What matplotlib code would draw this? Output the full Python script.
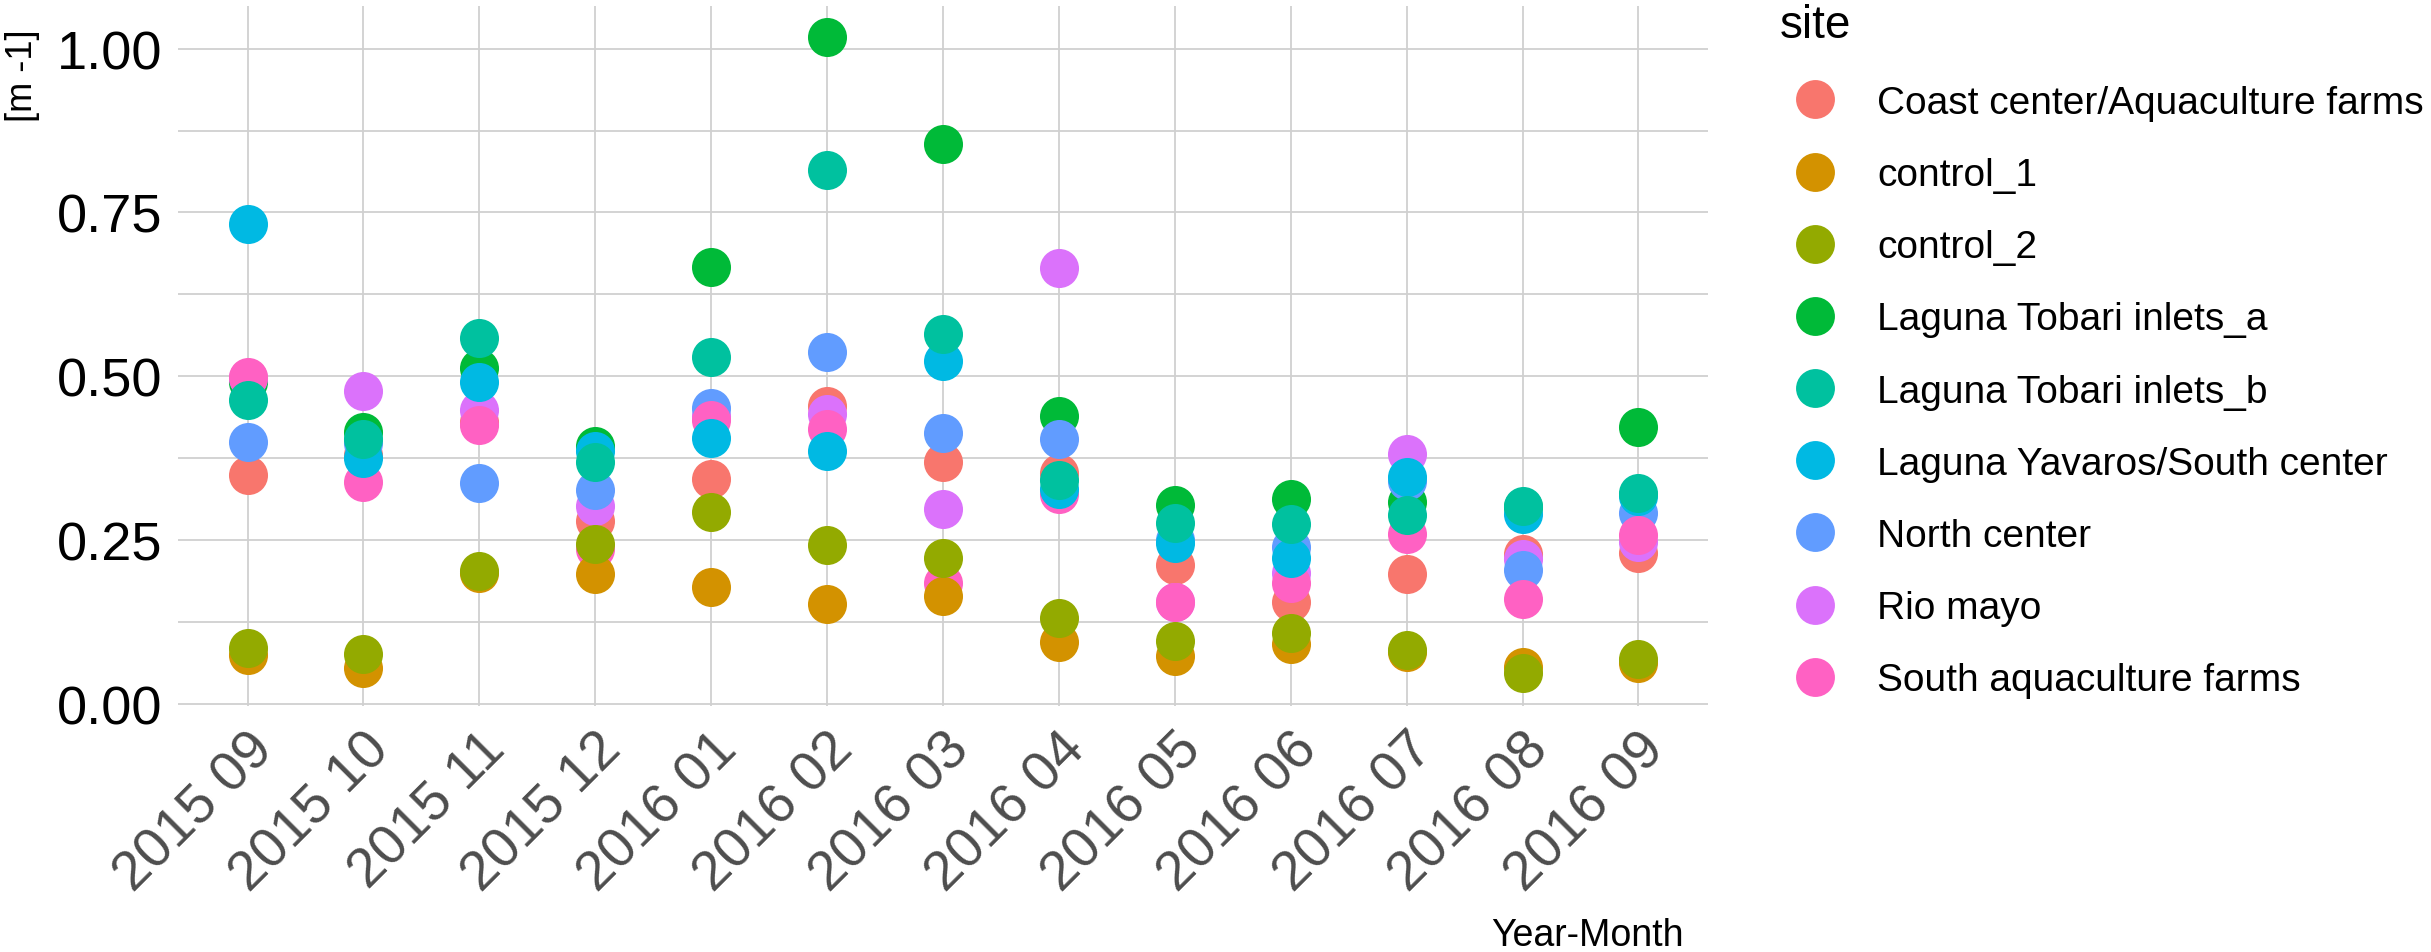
import matplotlib
matplotlib.use('Agg')
import numpy as np
import matplotlib.pyplot as plt
from matplotlib.lines import Line2D

plt.rcParams['font.family'] = ['Liberation Sans', 'DejaVu Sans']

months = ["2015 09", "2015 10", "2015 11", "2015 12", "2016 01", "2016 02", "2016 03",
          "2016 04", "2016 05", "2016 06", "2016 07", "2016 08", "2016 09"]

sites = ["Coast center/Aquaculture farms", "control_1", "control_2",
         "Laguna Tobari inlets_a", "Laguna Tobari inlets_b",
         "Laguna Yavaros/South center", "North center", "Rio mayo",
         "South aquaculture farms"]
colors = ["#F8766D", "#D39200", "#93AA00", "#00BA38", "#00C19F",
          "#00B9E3", "#619CFF", "#DB72FB", "#FF61C3"]

# valores (una lista por sitio, un valor por mes)
coast     = [0.349, 0.380, 0.430, 0.280, 0.344, 0.455, 0.369, 0.353, 0.212, 0.156, 0.198, 0.229, 0.230]
control_1 = [0.075, 0.055, 0.200, 0.198, 0.178, 0.152, 0.165, 0.094, 0.074, 0.092, 0.080, 0.056, 0.063]
control_2 = [0.086, 0.076, 0.203, 0.244, 0.293, 0.242, 0.223, 0.132, 0.096, 0.109, 0.082, 0.048, 0.069]
tobari_a  = [0.492, 0.415, 0.512, 0.393, 0.667, 1.017, 0.854, 0.440, 0.303, 0.313, 0.309, 0.300, 0.422]
tobari_b  = [0.464, 0.405, 0.559, 0.369, 0.530, 0.815, 0.565, 0.342, 0.276, 0.275, 0.289, 0.302, 0.322]
yavaros   = [0.732, 0.376, 0.492, 0.386, 0.406, 0.386, 0.524, 0.328, 0.245, 0.223, 0.346, 0.290, 0.318]
north     = [0.400, 0.398, 0.337, 0.327, 0.451, 0.537, 0.414, 0.404, 0.250, 0.240, 0.340, 0.204, 0.291]
rio_mayo  = [0.498, 0.478, 0.448, 0.302, 0.440, 0.442, 0.297, 0.666, 0.155, 0.200, 0.382, 0.222, 0.247]
south_aq  = [0.499, 0.338, 0.426, 0.236, 0.433, 0.419, 0.184, 0.320, 0.155, 0.184, 0.260, 0.161, 0.258]

series = [coast, control_1, control_2, tobari_a, tobari_b, yavaros, north, rio_mayo, south_aq]
# orden de dibujo (qué puntos quedan encima), según el original
draw_order = [0, 3, 7, 6, 8, 5, 1, 2, 4]

W, H = 2431, 953
fig = plt.figure(figsize=(W / 100, H / 100), dpi=100)
ax = fig.add_axes([178 / W, 1 - 707 / H, 1530 / W, 700 / H])

x = np.arange(len(months))
for z, i in enumerate(draw_order):
    ax.scatter(x, series[i], s=790, color=colors[i], linewidths=0, zorder=3 + z * 0.01)

ax.set_xlim(-0.6, len(months) - 0.4)
ax.set_ylim(-0.003, 1.065)
ax.set_yticks([0, 0.25, 0.5, 0.75, 1.0])
ax.set_yticks([0.125, 0.375, 0.625, 0.875], minor=True)
ax.set_yticklabels(["0.00", "0.25", "0.50", "0.75", "1.00"], fontsize=39, color="black")
ax.set_xticks(x)
ax.set_xticklabels(months, rotation=45, ha="right", va="top", rotation_mode="anchor",
                   fontsize=40, color="#4D4D4D")
ax.tick_params(axis="both", which="both", length=0)
ax.tick_params(axis="y", pad=11)
ax.tick_params(axis="x", pad=12)
ax.grid(True, which="both", color="#D0D0D0", linewidth=1.3, zorder=0)
ax.set_axisbelow(True)
for sp in ax.spines.values():
    sp.set_visible(False)

fig.text(22 / W, 1 - 29 / H, "[m -1]", rotation=90, fontsize=26, ha="center", va="top")
fig.text(1684 / W, 1 - 946 / H, "Year-Month", fontsize=27, ha="right", va="baseline")

# leyenda
fig.text(1780 / W, 1 - 38 / H, "site", fontsize=33, ha="left", va="baseline")
handles = [Line2D([0], [0], marker="o", linestyle="", markersize=28,
                  markerfacecolor=c, markeredgewidth=0) for c in colors]
fig.legend(handles, sites, loc="upper left", bbox_to_anchor=(1776 / W, 1 - 86 / H),
           frameon=False, fontsize=28, labelspacing=0.93, handlelength=2.0,
           handletextpad=0.6, borderpad=0, borderaxespad=0)

fig.savefig("out.png", dpi=100)
